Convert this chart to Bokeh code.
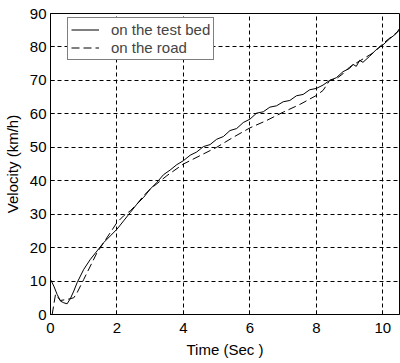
from bokeh.plotting import figure
from bokeh.models import Legend, LegendItem, Range1d, FixedTicker
from bokeh.embed import file_html
from bokeh.resources import INLINE

# Test bed (solid)
bed_t = [0, 0.1, 0.2, 0.3, 0.4, 0.5, 0.6, 0.7, 0.8, 0.9, 1.0, 1.2, 1.4, 1.6, 1.8, 2.0,
         2.2, 2.4, 2.6, 2.8, 3.0, 3.2, 3.4, 3.6, 3.8, 4.0, 4.2, 4.4, 4.6, 4.8, 5.0,
         5.2, 5.4, 5.6, 5.8, 6.0, 6.2, 6.4, 6.6, 6.8, 7.0, 7.2, 7.4, 7.6, 7.8, 8.0,
         8.2, 8.4, 8.6, 8.8, 9.0, 9.1, 9.2, 9.3, 9.4, 9.6, 9.8, 10.0, 10.2, 10.4, 10.5]
bed_v = [10.5, 8.5, 6.0, 4.0, 3.5, 3.2, 4.8, 7.0, 9.5, 11.5, 13.5, 16.5, 19.0, 21.5, 23.5, 25.5,
         28.0, 30.5, 33.0, 35.0, 37.5, 39.5, 41.8, 43.2, 44.8, 46.0, 47.6, 48.6, 50.2, 50.8, 52.4,
         53.2, 55.0, 55.6, 57.4, 58.4, 60.2, 60.6, 62.0, 62.4, 63.6, 64.0, 65.4, 65.8, 67.2, 67.6,
         68.6, 70.0, 70.8, 72.6, 73.6, 74.8, 74.2, 76.0, 75.4, 77.2, 79.2, 80.6, 82.4, 84.0, 85.5]

# On the road (dashed)
road_t = [0.05, 0.1, 0.15, 0.3, 0.5, 0.7, 0.8, 1.0, 1.2, 1.4, 1.6, 1.8, 2.0, 2.2, 2.4,
          2.6, 2.8, 3.0, 3.5, 4.0, 4.5, 5.0, 5.5, 6.0, 6.5, 7.0, 7.5, 8.0, 8.2, 8.4,
          8.6, 8.8, 9.0, 9.25, 9.5, 9.75, 10.0, 10.25, 10.5]
road_v = [0.0, 3.0, 6.0, 4.2, 4.5, 5.0, 6.5, 10.5, 14.5, 18.5, 21.5, 24.5, 27.5, 29.5, 31.0,
          33.0, 35.5, 37.5, 41.5, 45.0, 47.5, 50.0, 53.0, 55.8, 58.0, 60.5, 62.8, 65.5, 67.0, 70.0,
          70.5, 72.0, 74.0, 75.5, 77.0, 78.5, 81.0, 83.0, 85.0]

x_ticks = [0, 2, 4, 6, 8, 10]
y_ticks = [0, 10, 20, 30, 40, 50, 60, 70, 80, 90]

FONT = "Liberation Sans"

p = figure(width=400, height=363, output_backend="svg", toolbar_location=None,
           x_range=Range1d(0, 10.5), y_range=Range1d(0, 90),
           min_border_left=49, min_border_right=1, min_border_top=13, min_border_bottom=49,
           background_fill_color="white", border_fill_color="white")

r1 = p.line(bed_t, bed_v, line_color="black", line_width=1)
r2 = p.line(road_t, road_v, line_color="black", line_width=1, line_dash="8 4")

p.xaxis.ticker = FixedTicker(ticks=x_ticks)
p.yaxis.ticker = FixedTicker(ticks=y_ticks)
for ax in (p.xaxis, p.yaxis):
    ax.major_tick_in = 4
    ax.major_tick_out = 0
    ax.minor_tick_line_color = None
    ax.axis_line_color = "black"
    ax.major_tick_line_color = "black"
    ax.major_label_text_font = FONT
    ax.major_label_text_font_size = "15px"
    ax.major_label_text_color = "black"
    ax.axis_label_text_font = FONT
    ax.axis_label_text_font_size = "15px"
    ax.axis_label_text_font_style = "normal"
    ax.axis_label_text_color = "black"

p.xaxis.axis_label = "Time (Sec )"
p.yaxis.axis_label = "Velocity (km/h)"
p.xaxis.axis_label_standoff = 5
p.yaxis.axis_label_standoff = 6
p.xaxis.major_label_standoff = 8
p.yaxis.major_label_standoff = 4

p.grid.grid_line_color = "black"
p.grid.grid_line_dash = "4 3"
p.grid.grid_line_width = 1

p.outline_line_color = "black"
p.outline_line_width = 1
p.outline_line_alpha = 1

legend = Legend(items=[LegendItem(label="on the test bed", renderers=[r1]),
                       LegendItem(label="on the road", renderers=[r2])],
                location=(17, 254))
legend.label_text_font = FONT
legend.label_text_font_size = "15px"
legend.label_height = 17
legend.glyph_height = 17
legend.glyph_width = 28
legend.label_standoff = 12
legend.spacing = 1
legend.padding = 3
legend.margin = 0
legend.border_line_color = "black"
legend.border_line_width = 1
legend.background_fill_alpha = 1
p.add_layout(legend)

open("out.html", "w").write(file_html(p, INLINE))
